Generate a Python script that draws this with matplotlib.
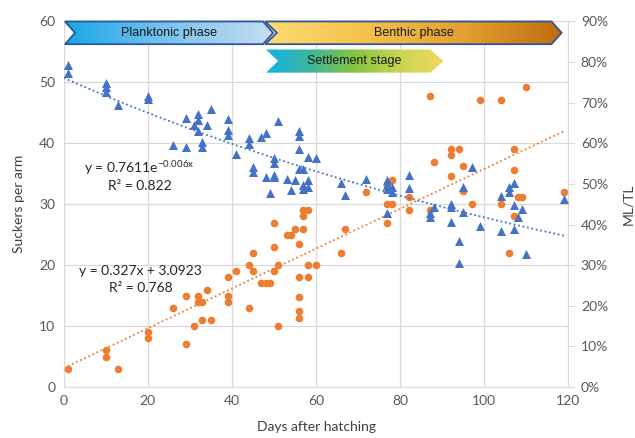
import numpy as np
import matplotlib
matplotlib.use('Agg')
import matplotlib.pyplot as plt
from matplotlib.patches import Polygon
from matplotlib.colors import LinearSegmentedColormap
from matplotlib.ticker import PercentFormatter

plt.rcParams['font.family'] = ['Lato', 'DejaVu Sans']
plt.rcParams['mathtext.default'] = 'regular'

# ML/TL (blue triangles, right axis, %)
mltl_days = [1, 1, 10, 10, 10, 13, 20, 20, 26, 29, 29, 31, 32, 32, 32, 33, 33, 34, 35,
             39, 39, 39, 41, 44, 44, 45, 45, 47, 48, 48, 49, 50, 50, 50, 50, 51, 53, 54,
             55, 56, 56, 56, 56, 57, 57, 57, 58, 58, 58, 60, 66, 67, 72, 77, 77, 77, 77,
             78, 78, 82, 82, 87, 87, 88, 92, 92, 92, 94, 94, 95, 95, 97, 99, 104, 104,
             106, 106, 107, 107, 107, 108, 109, 110, 119]
mltl_pct = [79.3, 77.2, 74.9, 73.8, 72.6, 69.4, 71.6, 70.8, 59.6, 66.3, 59.2, 64.5, 67.2,
            65.7, 63.1, 60.4, 59.2, 64.5, 68.4, 65.9, 63.4, 62.0, 57.3, 61.2, 59.8, 54.1,
            53.0, 61.5, 62.6, 51.8, 47.8, 56.3, 55.2, 52.2, 51.6, 65.6, 51.1, 48.5, 51.0,
            63.0, 61.8, 58.5, 53.6, 53.6, 49.7, 48.7, 56.7, 51.0, 49.3, 56.3, 50.2, 47.3,
            51.1, 51.0, 49.7, 48.7, 42.9, 49.3, 48.1, 52.1, 48.9, 42.8, 41.9, 44.2, 45.1,
            44.2, 40.7, 36.0, 30.6, 49.2, 43.0, 54.1, 39.7, 47.1, 38.4, 49.2, 48.1, 50.2,
            44.8, 38.9, 41.9, 43.8, 32.7, 46.2]

# suckers per arm (orange dots, left axis)
suck_days = [1, 10, 10, 13, 20, 20, 26, 29, 29, 31, 32, 32, 33, 33, 34, 35, 39, 39, 39,
             41, 44, 44, 45, 45, 47, 48, 49, 50, 50, 50, 51, 51, 53, 54, 55, 56, 56, 56,
             56, 56, 57, 57, 57, 58, 58, 58, 60, 66, 67, 72, 77, 77, 77, 78, 78, 82, 82,
             87, 87, 88, 92, 92, 92, 94, 95, 95, 97, 99, 104, 104, 106, 107, 107, 107,
             108, 109, 110, 119]
suck_vals = [3, 6, 5, 3, 9, 8, 13, 15, 7, 10, 15, 14, 14, 11, 16, 11, 18, 15, 14,
             19, 20, 13, 22, 19, 17, 17, 17, 27, 23, 19, 20, 10, 25, 25, 26, 23.5, 18, 14.7,
             12.5, 11.4, 29, 28, 26, 29, 20, 18, 20, 22, 26, 32, 33, 30, 27, 34, 30, 31.2, 29,
             47.8, 29, 37, 39, 38, 34.6, 39, 36.2, 32.1, 30, 47.1, 47.1, 30, 22, 39, 35.6, 28,
             31.2, 31.2, 49.2, 32]

# trendline coefficients as printed on the chart
exp_a, exp_b = 0.7611, -0.006
lin_m, lin_c = 0.327, 3.0923

# phase banners: label, start day, end day, colours
phase_names = ['Planktonic phase', 'Benthic phase', 'Settlement stage']
phase_start = [0.3, 47.9, 48.1]
phase_end = [49.8, 118.4, 90.3]
phase_colors = [['#17a7e6', '#7cc3ee', '#c8def3'],
                ['#fddc72', '#f5c14c', '#e3a033', '#c06c0c'],
                ['#12b2e8', '#3db79a', '#86c441', '#c9d54f', '#f3d863']]

blue = '#4472c4'
orange = '#ed7d31'
grid_c = '#d9d9d9'
txt_c = '#595959'

fig = plt.figure(figsize=(6.35, 4.38), dpi=100)
pos = [0.1003, 0.1164, 0.7947, 0.8346]
ax = fig.add_axes(pos)
ax2 = ax.twinx()

ax.set_xlim(0, 120)
ax.set_ylim(0, 60)
ax.set_xticks(range(0, 121, 20))
ax.set_yticks(range(0, 61, 10))
ax.grid(True, color=grid_c, lw=0.9)
ax.set_axisbelow(True)
for s in ['top', 'right']:
    ax.spines[s].set_visible(False)
ax.spines['left'].set_color(grid_c)
ax.spines['bottom'].set_color(grid_c)
ax.tick_params(length=0, labelsize=10, labelcolor=txt_c, pad=6)
ax.set_ylabel('Suckers per arm', fontsize=10, color='#404040', labelpad=10)
ax.set_xlabel('Days after hatching', fontsize=10, color='#404040', labelpad=10)

ax2.set_ylim(0, 90)
ax2.set_yticks(range(0, 91, 10))
ax2.yaxis.set_major_formatter(PercentFormatter(decimals=0))
for s in ['top', 'left', 'bottom']:
    ax2.spines[s].set_visible(False)
ax2.spines['right'].set_color(grid_c)
ax2.tick_params(axis='y', length=5, color=grid_c, labelsize=10, labelcolor=txt_c, pad=4)
ax2.set_ylabel('ML/TL', fontsize=10, color='#404040', labelpad=10)

# data
ax.scatter(suck_days, suck_vals, s=30, color=orange, zorder=3, linewidths=0)
ax2.scatter(mltl_days, mltl_pct, s=42, marker='^', color=blue, zorder=3, linewidths=0)

xs = np.linspace(min(suck_days), max(suck_days), 200)
ax.plot(xs, lin_m * xs + lin_c, ls=(0, (1, 1.5)), color=orange, lw=1.3, zorder=2)
xs2 = np.linspace(min(mltl_days) - 1, max(mltl_days), 200)
ax2.plot(xs2, 100 * exp_a * np.exp(exp_b * xs2), ls=(0, (1, 1.5)), color=blue, lw=1.3, zorder=2)

ax.text(18, 36, 'y = 0.7611e$^{-0.006x}$', ha='center', va='center', fontsize=10, color='#262626')
ax.text(18, 33, 'R² = 0.822', ha='center', va='center', fontsize=10, color='#262626')
ax.text(18.3, 19, 'y = 0.327x + 3.0923', ha='center', va='center', fontsize=10, color='#262626')
ax.text(18.3, 16.2, 'R² = 0.768', ha='center', va='center', fontsize=10, color='#262626')

# banners on an overlay axes
bax = fig.add_axes(pos, zorder=5)
bax.set_xlim(0, 120)
bax.set_ylim(0, 60)
bax.axis('off')

def banner(x0, x1, y0, y1, notch, tip, colors, label, edge):
    ym = (y0 + y1) / 2
    pts = [(x0, y0), (x1 - tip, y0), (x1, ym), (x1 - tip, y1), (x0, y1), (x0 + notch, ym)]
    grad = np.linspace(0, 1, 256).reshape(1, -1)
    cmap = LinearSegmentedColormap.from_list('g', colors)
    im = bax.imshow(grad, cmap=cmap, extent=(x0, x1, y0, y1), aspect='auto',
                    origin='lower', zorder=1, interpolation='bilinear')
    clip = Polygon(pts, closed=True, transform=bax.transData)
    im.set_clip_path(clip)
    im.set_clip_on(True)
    if edge:
        bax.add_patch(Polygon(pts, closed=True, fill=False, edgecolor=edge, lw=1.3,
                              clip_on=False, zorder=2))
    bax.text((x0 + notch + x1 - tip) / 2, ym, label, ha='center', va='center',
             fontsize=9, family=['Liberation Sans'], color='#1a1a1a', zorder=3)

banner(phase_start[0], phase_end[0], 56.27, 60.0, 2.4, 2.4, phase_colors[0], phase_names[0], '#2f5597')
banner(phase_start[1], phase_end[1], 56.27, 60.0, 2.8, 2.4, phase_colors[1], phase_names[1], '#2f5597')
banner(phase_start[2], phase_end[2], 51.6, 55.4, 2.9, 3.1, phase_colors[2], phase_names[2], None)
bax.set_xlim(0, 120)
bax.set_ylim(0, 60)

fig.savefig('out.png', dpi=100)
